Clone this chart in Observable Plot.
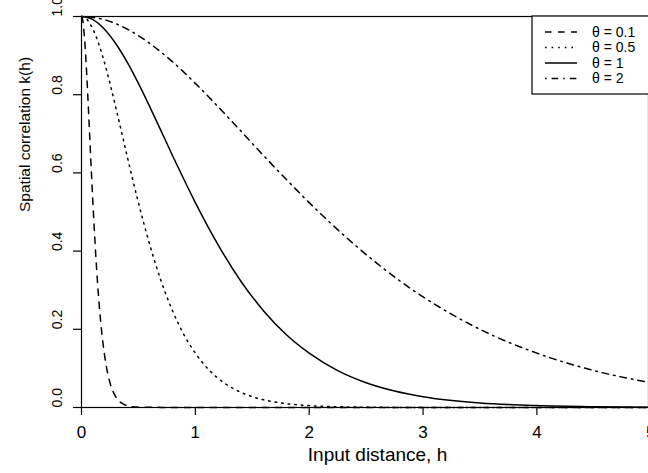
<!DOCTYPE html>
<html>
<head>
<meta charset="utf-8">
<script src="https://cdn.jsdelivr.net/npm/d3@7"></script>
<script src="https://cdn.jsdelivr.net/npm/@observablehq/plot@0.6"></script>
<style>
  html, body { margin: 0; padding: 0; background: white; }
</style>
</head>
<body>
<div id="chart"></div>
<script>
// ---- data ----
const h01 = [0,0.01,0.02,0.03,0.04,0.05,0.06,0.07,0.08,0.09,0.1,0.12,0.14,0.16,0.18,0.2,0.225,0.25,0.275,0.3,0.35,0.4,0.45,0.5,1,2,3,4,5];
const k01 = [1,0.992,0.968,0.931,0.884,0.829,0.769,0.707,0.644,0.583,0.524,0.416,0.323,0.247,0.186,0.139,0.0945,0.0635,0.0422,0.0277,0.0117,0.0048,0.0019,0.0008,0,0,0,0,0];

const h05 = [0,0.05,0.1,0.15,0.2,0.25,0.3,0.35,0.4,0.45,0.5,0.6,0.7,0.8,0.9,1.0,1.125,1.25,1.375,1.5,1.75,2.0,2.25,2.5,3,4,5];
const k05 = [1,0.992,0.968,0.931,0.884,0.829,0.769,0.707,0.644,0.583,0.524,0.416,0.323,0.247,0.186,0.139,0.0945,0.0635,0.0422,0.0277,0.0117,0.0048,0.0019,0.0008,0,0,0];

const h1 = [0,0.1,0.2,0.3,0.4,0.5,0.6,0.7,0.8,0.9,1.0,1.2,1.4,1.6,1.8,2.0,2.25,2.5,2.75,3.0,3.5,4.0,4.5,5.0];
const k1 = [1,0.992,0.968,0.931,0.884,0.829,0.769,0.707,0.644,0.583,0.524,0.416,0.323,0.247,0.186,0.139,0.0945,0.0635,0.0422,0.0277,0.0117,0.0048,0.0019,0.0008];

const h2 = [0,0.2,0.4,0.6,0.8,1.0,1.2,1.4,1.6,1.8,2.0,2.4,2.8,3.2,3.6,4.0,4.5,5.0];
const k2 = [1,0.992,0.968,0.931,0.884,0.829,0.769,0.707,0.644,0.583,0.524,0.416,0.323,0.247,0.186,0.139,0.0945,0.0635];

const xTicks = [0,1,2,3,4,5];
const yTicks = [0,0.2,0.4,0.6,0.8,1.0];
const legendLabels = ["θ = 0.1","θ = 0.5","θ = 1","θ = 2"];
const xTitle = "Input distance, h";
const yTitle = "Spatial correlation k(h)";

// ---- build ----
const toRows = (hs, ks) => hs.map((h, i) => ({h, k: ks[i]}));
const series = [toRows(h01,k01), toRows(h05,k05), toRows(h1,k1), toRows(h2,k2)];
const dashes = ["6.5,6.5", "1.6,5", null, "1.6,5,6.6,5"];
const lw = 1.5;

const lineMarks = series.map((rows, i) =>
  Plot.line(rows, {x: "h", y: "k", curve: "monotone-x", stroke: "black",
    strokeWidth: lw, strokeDasharray: dashes[i] || undefined})
);

const chart = Plot.plot({
  width: 648,
  height: 473,
  marginLeft: 81,
  marginTop: 16,
  marginBottom: 66,
  marginRight: 0,
  x: {domain: [0, 5.2], range: [81, 673]},
  y: {domain: [0, 1], range: [407, 16]},
  style: {fontFamily: "'Liberation Sans', Arial, sans-serif", overflow: "hidden", background: "white", color: "black"},
  marks: [
    ...lineMarks,
    Plot.frame({stroke: "black", strokeWidth: 1.2}),
    Plot.axisX({ticks: xTicks, tickSize: 8, tickPadding: 10, fontSize: 17, label: null, strokeWidth: 1.2, tickFormat: d => String(d)}),
    Plot.axisY({ticks: yTicks, tickSize: 8, tickFormat: () => "", label: null, strokeWidth: 1.2}),
    Plot.text(yTicks, {y: d => d, frameAnchor: "left", dx: -24, rotate: -90, text: d => d.toFixed(1), fontSize: 14}),
    Plot.text([yTitle], {frameAnchor: "left", dx: -56, rotate: -90, text: d => d, fontSize: 15.5}),
    Plot.text([xTitle], {x: 2.6, frameAnchor: "bottom", dy: 53, text: d => d, fontSize: 19})
  ]
});

// ---- legend ----
const svg = d3.select(chart);
const lg = svg.append("g").attr("font-family", "'Liberation Sans', Arial, sans-serif");
lg.append("rect").attr("x", 532).attr("y", 16).attr("width", 200).attr("height", 78)
  .attr("fill", "white").attr("stroke", "black").attr("stroke-width", 1.2);
legendLabels.forEach((lab, i) => {
  const y = 32 + 15.5 * i;
  const ln = lg.append("line").attr("x1", 545).attr("x2", 577).attr("y1", y).attr("y2", y)
    .attr("stroke", "black").attr("stroke-width", lw);
  if (dashes[i]) ln.attr("stroke-dasharray", dashes[i]);
  lg.append("text").attr("x", 592).attr("y", y).attr("dy", "0.35em")
    .attr("text-anchor", "start")
    .attr("font-size", 14).attr("fill", "black").text(lab);
});

document.getElementById("chart").appendChild(chart);
</script>
</body>
</html>
